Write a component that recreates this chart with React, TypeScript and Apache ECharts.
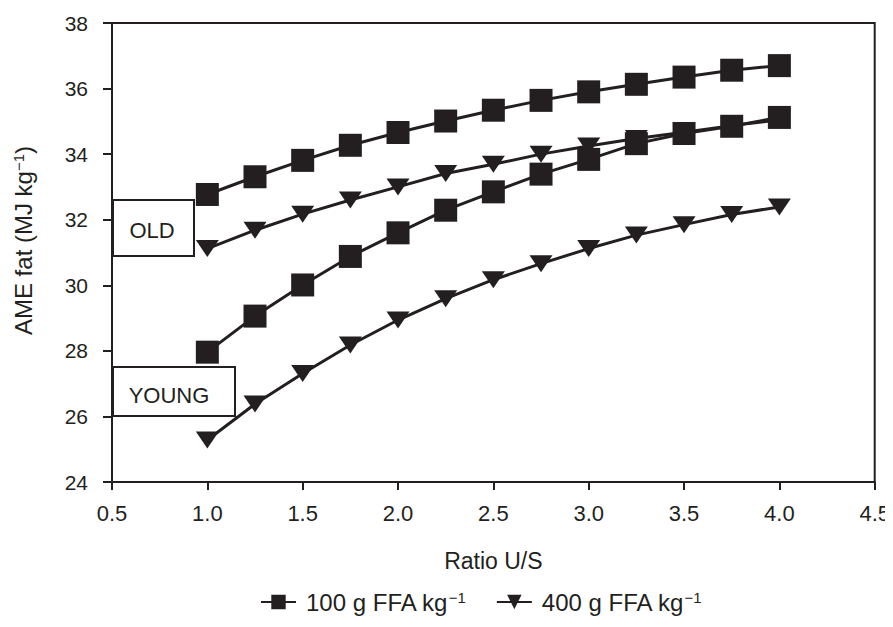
import React, { useEffect, useRef } from "react";
import * as echarts from "echarts";

const ratios = [1.0, 1.25, 1.5, 1.75, 2.0, 2.25, 2.5, 2.75, 3.0, 3.25, 3.5, 3.75, 4.0];
const old100 = [32.77, 33.31, 33.81, 34.27, 34.66, 35.01, 35.34, 35.64, 35.9, 36.13, 36.35, 36.56, 36.7];
const old400 = [31.12, 31.68, 32.17, 32.6, 33.0, 33.41, 33.69, 34.0, 34.25, 34.48, 34.67, 34.87, 35.05];
const young100 = [27.96, 29.06, 30.01, 30.88, 31.6, 32.29, 32.85, 33.39, 33.84, 34.32, 34.63, 34.85, 35.12];
const young400 = [25.28, 26.38, 27.31, 28.18, 28.94, 29.59, 30.17, 30.66, 31.12, 31.53, 31.85, 32.16, 32.39];
const seriesNames = ["100 g FFA kg{sup|−1}", "400 g FFA kg{sup|−1}"];
const ageLabels = ["OLD", "YOUNG"];

const INK = "#231f20";
const FONT = "Liberation Sans, Arial, sans-serif";
const FS = 22;

export default function App() {
  const ref = useRef<HTMLDivElement>(null);
  useEffect(() => {
    if (!ref.current) return;
    const chart = echarts.init(ref.current, null, { renderer: "svg" });
    const pair = (ys: number[]) => ratios.map((x, i) => [x, ys[i]]);
    const squareSeries = (name: string, ys: number[]) => ({
      name,
      type: "line",
      data: pair(ys),
      symbol: "rect",
      symbolSize: 23,
      lineStyle: { color: INK, width: 3 },
      itemStyle: { color: INK },
      z: 3,
    });
    const triSeries = (name: string, ys: number[]) => ({
      name,
      type: "line",
      data: pair(ys),
      symbol: "triangle",
      symbolRotate: 180,
      symbolSize: [23, 17],
      lineStyle: { color: INK, width: 3 },
      itemStyle: { color: INK },
      z: 2,
    });
    const sup = { fontSize: 14, verticalAlign: "top", padding: [0, 0, 10, 0], color: INK, fontFamily: FONT };
    const supL = { fontSize: 15, verticalAlign: "top", padding: [0, 0, 10, 0], color: INK, fontFamily: FONT };
    chart.setOption({
      animation: false,
      grid: {
        left: 112,
        right: 18,
        top: 23,
        bottom: 145,
        show: true,
        borderColor: INK,
        borderWidth: 2,
      },
      xAxis: {
        type: "value",
        min: 0.5,
        max: 4.5,
        interval: 0.5,
        name: "Ratio U/S",
        nameLocation: "middle",
        nameGap: 67,
        nameTextStyle: { fontFamily: FONT, fontSize: 23, color: INK },
        axisLine: { lineStyle: { color: INK, width: 2 } },
        axisTick: { show: true, inside: false, length: 8, lineStyle: { color: INK, width: 2 } },
        axisLabel: {
          fontFamily: FONT,
          fontSize: FS,
          color: INK,
          margin: 20,
          formatter: (v: number) => v.toFixed(1),
        },
        splitLine: { show: false },
      },
      yAxis: {
        type: "value",
        min: 24,
        max: 38,
        interval: 2,
        name: "AME fat (MJ kg{sup|−1})",
        nameLocation: "middle",
        nameGap: 76,
        nameTextStyle: {
          fontFamily: FONT,
          fontSize: 24,
          color: INK,
          padding: [0, 0, 0, 24],
          rich: { sup: supL },
        },
        axisLine: { lineStyle: { color: INK, width: 2 } },
        axisTick: { show: true, inside: false, length: 9, lineStyle: { color: INK, width: 2 } },
        axisLabel: { fontFamily: FONT, fontSize: 21, color: INK, margin: 24 },
        splitLine: { show: false },
      },
      legend: {
        bottom: 8,
        left: 255,
        itemWidth: 35,
        itemHeight: 18,
        itemGap: 30,
        data: seriesNames,
        formatter: (n: string) => n,
        textStyle: {
          fontFamily: FONT,
          fontSize: 24,
          color: INK,
          padding: [0, 0, 0, 5],
          rich: { sup: supL },
        },
      },
      graphic: [
        {
          type: "group",
          left: 112,
          top: 199,
          children: [
            { type: "rect", shape: { x: 0, y: 0, width: 81, height: 56 }, style: { fill: "#fff", stroke: INK, lineWidth: 2 } },
            {
              type: "text",
              x: 39,
              y: 30,
              style: { text: ageLabels[0], fontFamily: FONT, fontSize: FS, fill: INK, align: "center", verticalAlign: "middle" },
            },
          ],
        },
        {
          type: "group",
          left: 112,
          top: 366,
          children: [
            { type: "rect", shape: { x: 0, y: 0, width: 122, height: 49 }, style: { fill: "#fff", stroke: INK, lineWidth: 2 } },
            {
              type: "text",
              x: 56,
              y: 28,
              style: { text: ageLabels[1], fontFamily: FONT, fontSize: FS, fill: INK, align: "center", verticalAlign: "middle" },
            },
          ],
        },
      ],
      series: [
        squareSeries(seriesNames[0], old100),
        triSeries(seriesNames[1], old400),
        squareSeries(seriesNames[0], young100),
        triSeries(seriesNames[1], young400),
      ],
    });
    return () => chart.dispose();
  }, []);
  return <div ref={ref} style={{ width: 893, height: 627, margin: -8 }} />;
}
